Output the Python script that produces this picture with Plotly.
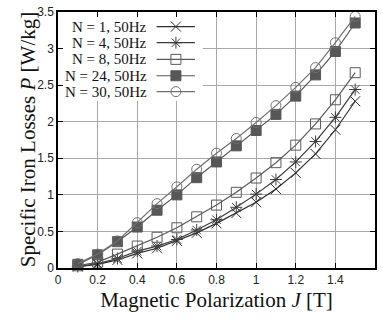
import plotly.graph_objects as go

# Magnetic polarization J [T]
J = [0.1, 0.2, 0.3, 0.4, 0.5, 0.6, 0.7, 0.8, 0.9, 1.0, 1.1, 1.2, 1.3, 1.4, 1.5]

# Specific iron losses P [W/kg] for stacks of N sheets at 50 Hz
P_N1 = [0.02, 0.05, 0.11, 0.20, 0.27, 0.37, 0.48, 0.61, 0.75, 0.90, 1.08, 1.30, 1.56, 1.89, 2.28]
P_N4 = [0.02, 0.06, 0.13, 0.23, 0.30, 0.39, 0.52, 0.66, 0.83, 1.01, 1.21, 1.45, 1.73, 2.06, 2.44]
P_N8 = [0.03, 0.08, 0.19, 0.30, 0.42, 0.55, 0.70, 0.86, 1.035, 1.23, 1.44, 1.68, 1.97, 2.30, 2.67]
P_N24 = [0.05, 0.18, 0.36, 0.56, 0.79, 1.00, 1.235, 1.45, 1.67, 1.88, 2.10, 2.35, 2.64, 2.96, 3.35]
P_N30 = [0.06, 0.19, 0.37, 0.62, 0.88, 1.11, 1.35, 1.57, 1.77, 1.99, 2.22, 2.47, 2.74, 3.08, 3.44]

series_labels = ["N = 1, 50Hz", "N = 4, 50Hz", "N = 8, 50Hz", "N = 24, 50Hz", "N = 30, 50Hz"]
series_values = [P_N1, P_N4, P_N8, P_N24, P_N30]

x_ticks = [0, 0.2, 0.4, 0.6, 0.8, 1, 1.2, 1.4, 1.6]
y_ticks = [0, 0.5, 1, 1.5, 2, 2.5, 3, 3.5]

styles = [
    dict(color="#2e2e2e", symbol="x-thin-open", size=10),
    dict(color="#3c3c3c", symbol="asterisk-open", size=10),
    dict(color="#5a5a5a", symbol="square-open", size=10),
    dict(color="#575757", symbol="square", size=10),
    dict(color="#707070", symbol="circle-open", size=10),
]

fig = go.Figure()

for vals, st in zip(series_values, styles):
    fig.add_trace(go.Scatter(
        x=J, y=vals, mode="lines+markers",
        line=dict(color=st["color"], width=1.2),
        marker=dict(symbol=st["symbol"], size=st["size"], color=st["color"],
                    line=dict(color=st["color"], width=1)),
        showlegend=False, cliponaxis=False,
    ))

# Key drawn on an overlay axis spanning the plot area (0..1 in both directions)
key_rows = [0.943, 0.880, 0.815, 0.751, 0.689]
key_x0, key_xm, key_x1 = 0.311, 0.372, 0.432
key_text_x = 0.288
annotations = []
for label, row, st in zip(series_labels, key_rows, styles):
    fig.add_trace(go.Scatter(
        x=[key_x0, key_x1], y=[row, row], mode="lines",
        line=dict(color=st["color"], width=1.2),
        xaxis="x2", yaxis="y2", showlegend=False, hoverinfo="skip",
    ))
    fig.add_trace(go.Scatter(
        x=[key_xm], y=[row], mode="markers",
        marker=dict(symbol=st["symbol"], size=st["size"], color=st["color"],
                    line=dict(color=st["color"], width=1)),
        xaxis="x2", yaxis="y2", showlegend=False, hoverinfo="skip",
    ))
    annotations.append(dict(
        x=key_text_x, y=row, xref="x2", yref="y2", text=label, showarrow=False,
        xanchor="right", yanchor="middle",
        font=dict(family="Liberation Serif", size=15, color="#111"),
    ))

# Vertical axis title, placed beside the tick labels
annotations.append(dict(
    x=-0.094, y=0.5, xref="paper", yref="paper", textangle=-90,
    text="Specific Iron Losses <i>P</i> [W/kg]", showarrow=False,
    xanchor="center", yanchor="middle",
    font=dict(family="Liberation Serif", size=21, color="#111"),
))

axis_common = dict(
    showline=True, linecolor="black", linewidth=1.5, mirror="ticks",
    ticks="inside", ticklen=5, tickwidth=1, tickcolor="black",
    showgrid=True, gridcolor="#a8a8a8", gridwidth=1, zeroline=False,
    automargin=False,
    tickfont=dict(family="Liberation Sans", size=12, color="#222"),
)

fig.update_layout(
    width=383, height=325,
    margin=dict(l=58, r=8, t=12, b=57),
    paper_bgcolor="white", plot_bgcolor="white",
    xaxis=dict(
        range=[0, 1.6], tickvals=x_ticks,
        title=dict(text="Magnetic Polarization <i>J</i> [T]", standoff=6,
                   font=dict(family="Liberation Serif", size=21, color="#111")),
        **axis_common,
    ),
    yaxis=dict(
        range=[0, 3.5], tickvals=y_ticks,
        **axis_common,
    ),
    xaxis2=dict(overlaying="x", range=[0, 1], visible=False),
    yaxis2=dict(overlaying="y", range=[0, 1], visible=False),
    # blank panel behind the key, hiding the grid there
    shapes=[dict(type="rect", xref="x", yref="y",
                 x0=0, x1=0.731, y0=2.282, y1=3.5,
                 fillcolor="white", line=dict(width=0), layer="between")],
    annotations=annotations,
)

fig.write_html("out.html")
